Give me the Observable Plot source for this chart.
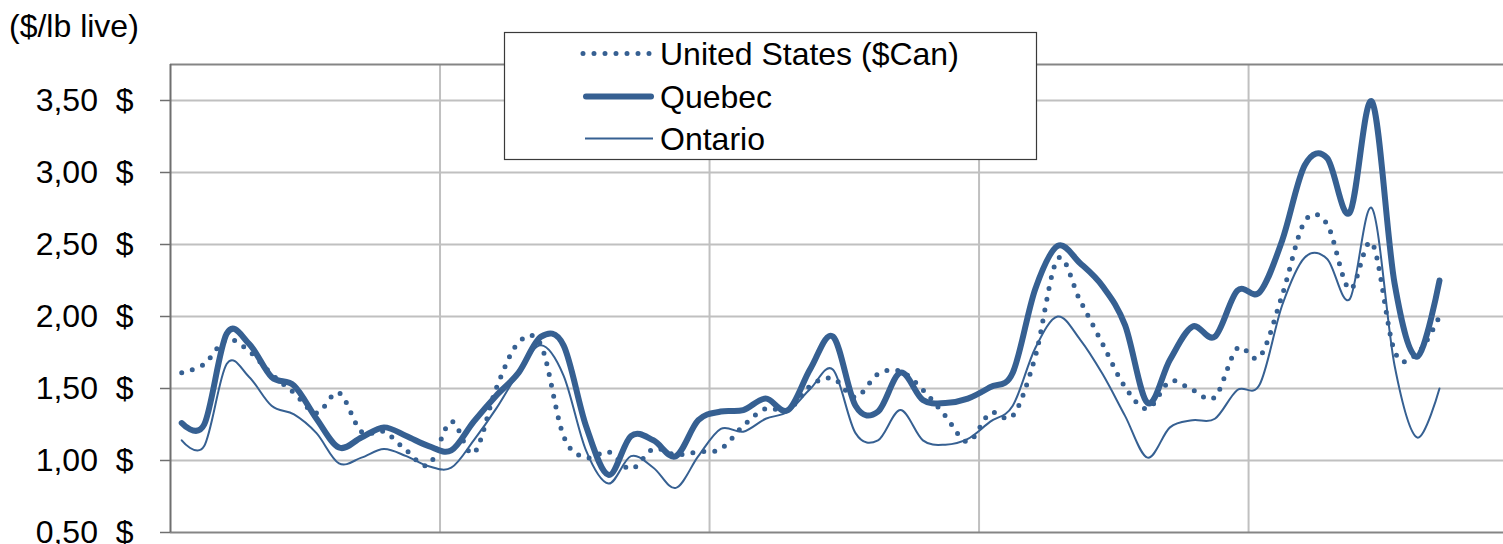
<!DOCTYPE html>
<html>
<head>
<meta charset="utf-8">
<script src="https://cdn.jsdelivr.net/npm/d3@7"></script>
<script src="https://cdn.jsdelivr.net/npm/@observablehq/plot@0.6"></script>
<style>
  html, body { margin: 0; padding: 0; background: #fff; overflow: hidden; }
  svg { display: block; }
</style>
</head>
<body>
<script>
// Monthly series ($/lb live), 57 months
const unitedStates = [1.61,1.67,1.84,1.76,1.60,1.47,1.33,1.47,1.20,1.20,1.07,0.97,1.27,1.05,1.50,1.82,1.80,1.17,1.02,1.06,0.94,1.08,1.04,1.06,1.08,1.24,1.36,1.35,1.52,1.57,1.44,1.60,1.62,1.49,1.31,1.13,1.33,1.31,1.72,2.40,2.11,1.81,1.51,1.36,1.55,1.49,1.44,1.78,1.72,2.15,2.66,2.64,2.19,2.51,1.76,1.74,2.00];
const quebec = [1.26,1.25,1.88,1.81,1.58,1.52,1.29,1.09,1.16,1.23,1.17,1.10,1.07,1.27,1.45,1.61,1.86,1.80,1.24,0.90,1.17,1.14,1.03,1.28,1.34,1.35,1.43,1.35,1.64,1.86,1.38,1.34,1.61,1.42,1.40,1.43,1.51,1.61,2.19,2.49,2.37,2.21,1.94,1.40,1.70,1.93,1.86,2.18,2.17,2.53,3.05,3.10,2.72,3.49,2.23,1.72,2.25];
const ontario = [1.14,1.10,1.67,1.58,1.38,1.32,1.19,0.98,1.02,1.08,1.03,0.96,0.95,1.14,1.36,1.61,1.80,1.59,1.07,0.84,1.03,0.95,0.81,1.03,1.22,1.20,1.29,1.34,1.50,1.63,1.19,1.14,1.35,1.14,1.11,1.15,1.27,1.38,1.78,2.00,1.84,1.60,1.31,1.02,1.23,1.28,1.29,1.49,1.53,2.08,2.41,2.40,2.12,2.75,1.66,1.16,1.50];
const seriesNames = ["United States ($Can)", "Quebec", "Ontario"];
const yTicks = [0.5, 1, 1.5, 2, 2.5, 3, 3.5];
const yearBreaks = [11.5, 23.5, 35.5, 47.5];
const yTitle = "($/lb live)";

const color = "#366092";
const font = "'Liberation Sans', Arial, sans-serif";
const fmt = d => d.toFixed(2).replace(".", ",") + "\u00a0\u00a0$";

const toRows = arr => arr.map((v, i) => ({i, v}));

const svg = Plot.plot({
  width: 1503,
  height: 544,
  marginLeft: 170,
  marginRight: 0,
  marginTop: 64,
  marginBottom: 12,
  style: {fontFamily: font, fontSize: "32px", color: "#000", background: "#fff", overflow: "visible"},
  x: {type: "linear", domain: [-0.5, 58.85], axis: null},
  y: {domain: [0.5, 3.75], axis: null},
  marks: [
    Plot.gridY(yTicks.filter(d => d > 0.5), {stroke: "#c0c0c0", strokeOpacity: 1, strokeWidth: 2}),
    Plot.ruleX(yearBreaks, {stroke: "#c0c0c0", strokeWidth: 2}),
    Plot.ruleY([3.75], {stroke: "#858585", strokeWidth: 2}),
    Plot.ruleY([0.5], {stroke: "#858585", strokeWidth: 2}),
    Plot.ruleX([-0.5], {stroke: "#6f6f6f", strokeWidth: 2}),
    Plot.axisY({ticks: yTicks, tickSize: 10, tickPadding: 27, tickFormat: fmt, stroke: "#6f6f6f", strokeWidth: 1.5, fill: "#000", label: null}),
    Plot.line(toRows(unitedStates), {x: "i", y: "v", curve: "cardinal", stroke: color, strokeWidth: 5, strokeDasharray: "0 11", strokeLinecap: "round", strokeLinejoin: "round"}),
    Plot.line(toRows(quebec), {x: "i", y: "v", curve: "cardinal", stroke: color, strokeWidth: 6, strokeLinecap: "round", strokeLinejoin: "round"}),
    Plot.line(toRows(ontario), {x: "i", y: "v", curve: "cardinal", stroke: color, strokeWidth: 2, strokeLinejoin: "round"})
  ]
});
document.body.append(svg);

const s = d3.select(svg);
// y-axis title
s.append("text")
  .attr("x", 9).attr("y", 37)
  .attr("text-anchor", "start")
  .attr("font-family", font).attr("font-size", 32).attr("fill", "#000")
  .text(yTitle);

// legend
const lg = s.append("g");
lg.append("rect")
  .attr("x", 504.5).attr("y", 32.5).attr("width", 532).attr("height", 127)
  .attr("fill", "#fff").attr("stroke", "#3a3a3a").attr("stroke-width", 1.2);
const styles = [
  {w: 5, dash: "0 11", cap: "round", x1: 583, x2: 652},
  {w: 6, dash: null, cap: "round", x1: 586, x2: 651},
  {w: 2, dash: null, cap: "butt", x1: 585, x2: 653}
];
const rowY = [53.5, 96.5, 138.5];
seriesNames.forEach((name, k) => {
  const st = styles[k];
  const ln = lg.append("line")
    .attr("x1", st.x1).attr("x2", st.x2).attr("y1", rowY[k]).attr("y2", rowY[k])
    .attr("stroke", color).attr("stroke-width", st.w).attr("stroke-linecap", st.cap);
  if (st.dash) ln.attr("stroke-dasharray", st.dash);
  lg.append("text")
    .attr("x", 660).attr("y", rowY[k] + 11)
    .attr("text-anchor", "start")
    .attr("font-family", font).attr("font-size", 32).attr("fill", "#000")
    .text(name);
});
</script>
</body>
</html>
